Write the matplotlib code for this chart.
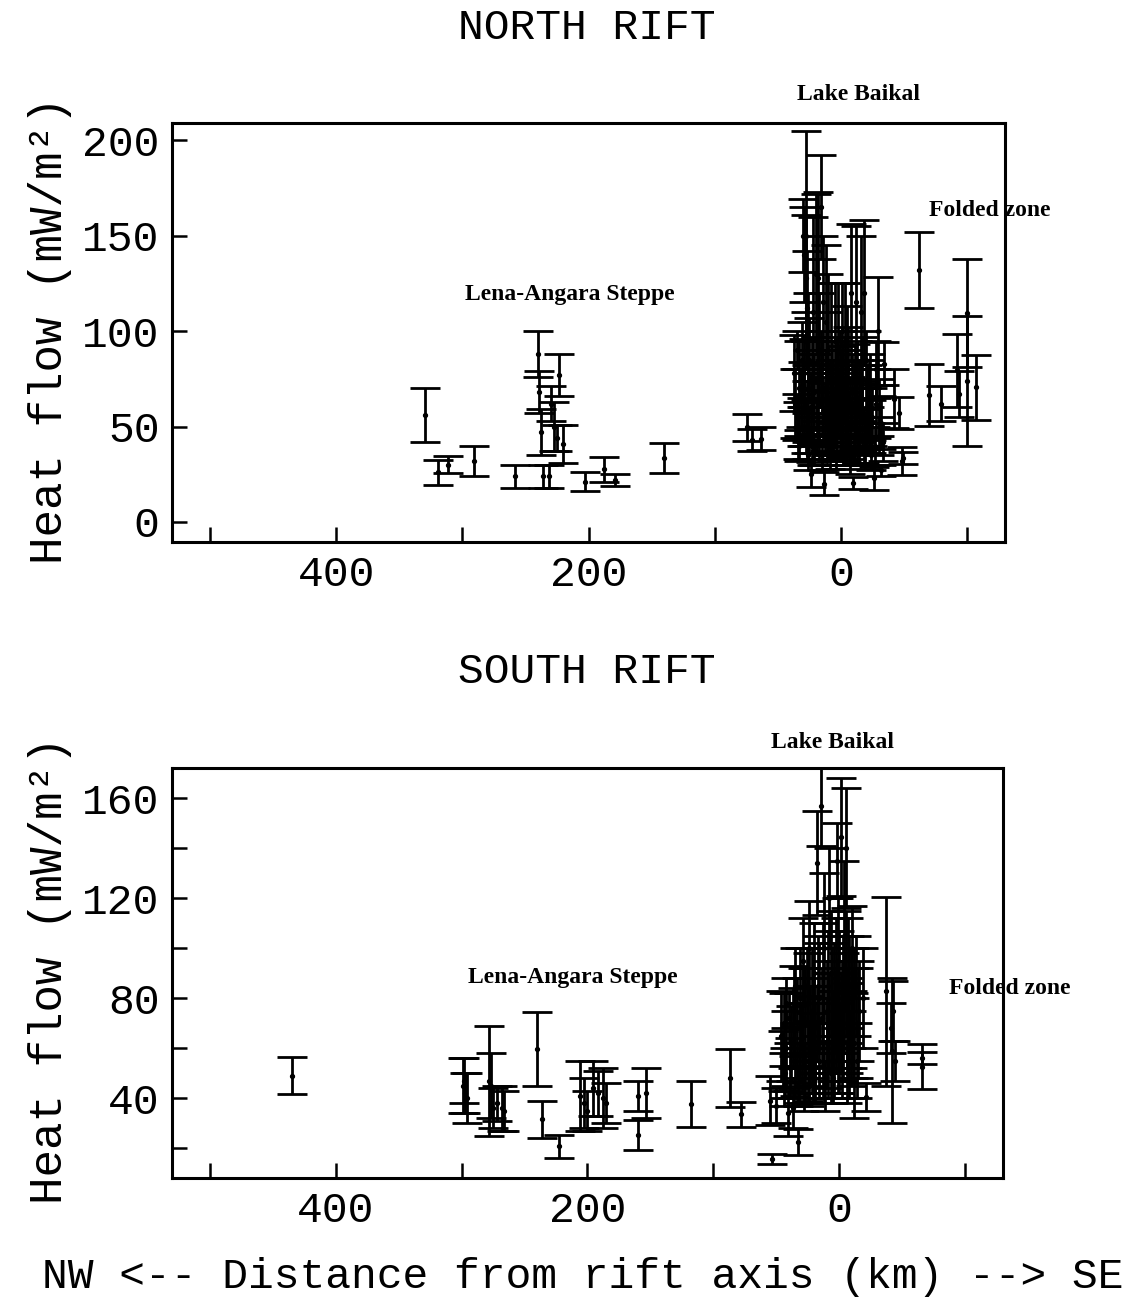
import matplotlib
matplotlib.use("Agg")
import matplotlib.pyplot as plt

# ---------------- NORTH RIFT data (distance km, heat flow, half error) -------------
north_dist = [329.5, 319, 311.7, 290.5, 258,
              240, 239, 238, 236, 231, 230, 227.5, 223.7, 225, 220, 203, 188, 179, 140,
              74.5, 70.7, 63,
              37, 36, 35, 34, 33,
              30, 29, 28, 27.5, 27, 26, 25, 30, 29, 28, 27, 26, 24, 23, 22,
              20, 18, 16, 17, 15, 14, 13.5, 13, 12, 11,
              10, 9, 8, 7, 6, 5, 4, 3, 2, 1,
              0, -1, -2, -3, -4, -5, -6, -7, -8, -9.5, -10, -11, -12, -13, -14,
              -16, -17, -18.5, -19, -20, -21, -22, -23, -24, -26, -25,
              -29.5, -28, -30, -31.5, -32, -34,
              35, 33, 32, 31, 31, 29, 28, 27, 26, 25, 24, 23, 22, 21, 21, 19, 19, 18,
              17, 16, 15, 14, 12, 11, 10, 9, 8, 7, 6, 5, 4, 3, 2, 1, 0, -1, -2, -3,
              -4, -5, -6, -7, -8, -9, -10, -11, -12, -13, -14, -15, -17, -18, -20,
              -22, -24, -27, -28, -30, -33,
              -42, -46, -48, -49, -61.5, -70, -79.3, -91.7, -93.8, -99.8, -99.8, -107]
north_hf = [56, 26, 30, 32, 24,
            88, 68, 47, 24, 24, 62, 50, 77, 44, 41, 21, 27.5, 22, 33.5,
            49.5, 43, 43.5,
            78, 62, 55, 48, 70,
            150, 140, 128, 150, 112, 97, 85, 72, 60, 50, 45, 35, 25, 75, 110,
            130, 128, 165, 90, 70, 115, 20, 55, 105, 45,
            90, 65, 80, 50, 60, 95, 40, 75, 90, 55,
            65, 100, 45, 95, 70, 88, 52, 35, 120, 20.5, 60, 75, 115, 45, 65,
            110, 55, 120, 40, 85, 60, 48, 70, 35, 23, 55,
            100, 62, 45, 27, 52, 83,
            90, 40, 65, 85, 50, 78, 95, 58, 70, 48, 60, 40, 55, 68, 38, 75, 50, 62,
            45, 80, 35, 58, 70, 85, 50, 40, 62, 75, 45, 55, 68, 50, 62, 75, 48, 58, 72, 55,
            42, 62, 80, 58, 45, 68, 38, 50, 62, 75, 40, 58, 75, 45, 55,
            65, 50, 40, 80, 60, 42,
            64.5, 57, 32, 33.5, 132, 66.5, 62, 79.4, 67, 109.5, 74, 70.5]
north_err = [14, 6.5, 4.5, 8, 6,
             12, 11, 12, 6, 6, 9, 13, 11, 7, 10, 5, 6.7, 3, 8,
             7, 5.7, 6,
             20, 18, 12, 15, 25,
             19, 25, 33, 55, 30, 23, 22, 12, 20, 14, 12, 8, 6.5, 20, 50,
             42, 45, 27, 30, 25, 35, 6, 18, 40, 15,
             40, 20, 45, 18, 25, 30, 12, 22, 35, 20,
             25, 25, 15, 30, 20, 25, 16, 10, 36, 3, 22, 18, 40, 14, 20,
             40, 18, 38, 12, 15, 22, 12, 18, 8, 6, 15,
             28.5, 18, 10, 3, 14, 11.5,
             10, 8, 15, 20, 10, 18, 15, 16, 20, 12, 18, 10, 14, 20, 8, 22, 14, 16,
             12, 20, 8, 18, 20, 25, 15, 12, 20, 20, 12, 15, 22, 14, 18, 25, 14, 16, 20, 18,
             10, 16, 22, 18, 12, 20, 8, 15, 18, 20, 10, 16, 22, 14, 15,
             20, 14, 10, 15, 15, 10,
             15.5, 8.5, 7.5, 3, 20, 16, 9, 19, 12, 28.5, 34, 17]

# ---------------- SOUTH RIFT data -------------
south_dist = [435, 299, 297, 298, 296, 278.5, 277, 275, 272, 268, 266,
              240, 236, 222.5, 206, 203, 200, 196, 192, 188, 185, 160, 160, 153.4, 117.7,
              87, 78, 55.4, 53.4, 50,
              46, 45, 44, 43, 42, 41, 40, 37, 33,
              38, 36, 35, 34, 32, 31, 30, 29, 28, 27,
              26, 25, 24, 23, 22, 21, 20, 19, 18, 17.5, 16, 14.5, 13, 12, 11,
              10, 9, 8, 7, 6, 5, 4, 3, 2, 1, 0, -1.3,
              -2, -3, -4, -5.3, -6, -7, -8, -9, -10, -11, -12, -13, -15, -18.5, -21,
              44, 42, 39, 37, 35, 33, 31, 29, 27, 25, 24, 22, 20, 19, 17, 16, 14, 13,
              12, 10, 9, 8, 7, 6, 5, 4, 3, 2, 1, 0, -1, -2, -3, -4, -5, -6, -7, -8,
              -9, -10, -12, -14, -16,
              -37, -42, -43, -41, -44, -66, -66]
south_hf = [49, 45, 42, 47, 40, 47, 45, 36, 38, 36, 35,
            59.7, 31.5, 20.7, 41, 38, 35, 44, 42, 40, 38, 41, 25.3, 42, 37.5,
            48, 33.5, 39, 15.6, 37,
            65, 55, 70, 50, 60, 34, 72, 36, 22.5,
            62, 75, 55, 68, 50, 80, 60, 95, 45, 70,
            85, 55, 100, 65, 75, 50, 90, 60, 70, 134, 80, 157, 60, 100, 45,
            75, 55, 120, 90, 65, 48, 80, 70, 135, 95, 60, 144.6,
            75, 85, 105, 140, 70, 90, 55, 80, 100, 65, 62, 85, 70, 80, 40.6,
            45, 78, 52, 68, 85, 45, 62, 72, 50, 78, 45, 58, 68, 48, 85, 55, 72, 90,
            50, 62, 85, 70, 50, 80, 65, 55, 90, 75, 60, 85, 70, 55, 65, 78, 90, 50, 68, 85,
            60, 72, 90, 55, 75,
            82.7, 59, 75, 68, 55, 52.6, 56]
south_err = [7.3, 11, 8, 9, 10, 22, 13, 8, 7, 9, 8,
             14.7, 7.5, 4.7, 14, 10, 8, 11, 9, 12, 8, 6, 6, 10, 9.2,
             11.7, 5, 9.7, 2, 7,
             18, 12, 12, 10, 15, 9, 10, 8, 5.3,
             15, 18, 14, 20, 12, 20, 18, 17, 10, 22,
             15, 16, 19, 20, 25, 12, 20, 18, 15, 20.7, 22, 16, 20, 30, 10,
             20, 15, 20, 25, 18, 10, 22, 20, 15, 25, 18, 23.6,
             20, 20, 30, 24, 18, 22, 15, 20, 17, 17, 30, 20, 22, 20, 5.6,
             8, 10, 12, 16, 15, 8, 16, 20, 12, 20, 8, 16, 20, 10, 20, 15, 20, 20,
             12, 18, 22, 20, 12, 20, 18, 15, 22, 20, 18, 22, 20, 15, 18, 20, 25, 12, 18, 20,
             15, 20, 10, 15, 20,
             37.7, 29, 12, 10, 8, 9, 2.5]

# tick values
x_ticks = [500, 400, 300, 200, 100, 0, -100]
x_labels = ['', '400', '', '200', '', '0', '']
north_yticks = [0, 50, 100, 150, 200]
north_ylabels = ['0', '50', '100', '150', '200']
south_yticks = [20, 40, 60, 80, 100, 120, 140, 160]
south_ylabels = ['', '40', '', '80', '', '120', '', '160']

W, H = 1142, 1299
fig = plt.figure(figsize=(W / 100, H / 100), dpi=100)
ax1 = fig.add_axes([172 / W, 1 - 542 / H, 833 / W, 419 / H])
ax2 = fig.add_axes([172 / W, 1 - 1178 / H, 831 / W, 410 / H])

mono = 'Liberation Mono'
bold = 'Liberation Serif'
FS = 31


def style(ax, yticks, ylabels):
    ax.set_xlim(530, -130)
    ax.set_xticks(x_ticks)
    ax.set_xticklabels(x_labels)
    ax.set_yticks(yticks)
    ax.set_yticklabels(ylabels)
    ax.tick_params(direction='in', length=11, width=1.8, labelsize=FS, pad=9)
    for lab in ax.get_xticklabels() + ax.get_yticklabels():
        lab.set_fontfamily(mono)
    for s in ax.spines.values():
        s.set_linewidth(2.2)


def draw(ax, d, v, e):
    ax.errorbar(d, v, yerr=e, fmt='o', color='black', ms=2.8, ecolor='black',
                elinewidth=2.0, capsize=11, capthick=2.0)


draw(ax1, north_dist, north_hf, north_err)
style(ax1, north_yticks, north_ylabels)
ax1.set_ylim(-10.5, 209)

draw(ax2, south_dist, south_hf, south_err)
style(ax2, south_yticks, south_ylabels)
ax2.set_ylim(8, 172)

# annotations
ann = dict(fontfamily=bold, fontweight='bold', fontsize=17, ha='center', va='center',
           clip_on=False)
ax1.text(-14, 224, 'Lake Baikal', **ann)
ax1.text(-118, 163, 'Folded zone', **ann)
ax1.text(215, 119, 'Lena-Angara Steppe', **ann)
ax2.text(5.5, 182.4, 'Lake Baikal', **ann)
ax2.text(212, 88.4, 'Lena-Angara Steppe', **ann)
ax2.text(-135, 83.6, 'Folded zone', **ann)

# titles and labels
fig.text(587 / W, 1 - 28 / H, 'NORTH RIFT', fontfamily=mono, fontsize=FS,
         ha='center', va='center')
fig.text(587 / W, 1 - 672 / H, 'SOUTH RIFT', fontfamily=mono, fontsize=FS,
         ha='center', va='center')
fig.text(50 / W, 1 - 330 / H, 'Heat flow (mW/m²)', fontfamily=mono, fontsize=33,
         rotation=90, ha='center', va='center')
fig.text(50 / W, 1 - 970 / H, 'Heat flow (mW/m²)', fontfamily=mono, fontsize=33,
         rotation=90, ha='center', va='center')
fig.text(583 / W, 1 - 1277 / H, 'NW <-- Distance from rift axis (km) --> SE',
         fontfamily=mono, fontsize=FS, ha='center', va='center')

fig.savefig('out.png', dpi=100)
